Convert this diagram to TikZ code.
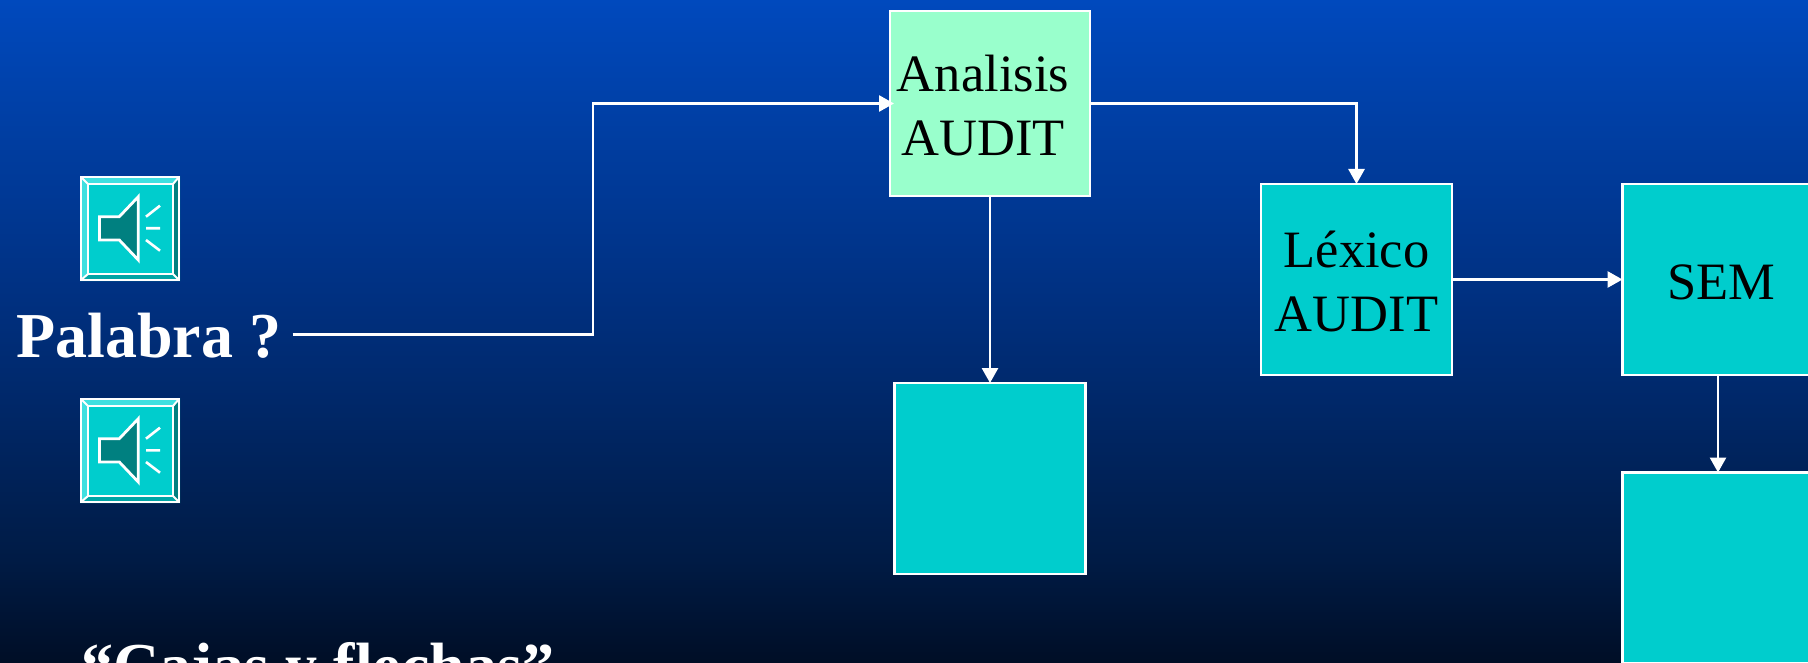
\documentclass[tikz,border=0pt]{standalone}
\usepackage{fontspec}
\setmainfont{Liberation Serif}
\usetikzlibrary{arrows.meta}
\definecolor{fondoalto}{HTML}{0049BD}
\definecolor{fondomedio}{HTML}{003080}
\definecolor{fondoosc}{HTML}{001B45}
\definecolor{fondobajo}{HTML}{000E26}
\definecolor{turquesa}{HTML}{00CDCD}
\definecolor{menta}{HTML}{99FFCC}
\definecolor{oscuro}{HTML}{008080}
\definecolor{medio}{HTML}{00A5A5}
\definecolor{claro}{HTML}{40E0E0}
\pgfdeclareverticalshading{fondo}{100bp}{color(0bp)=(fondobajo); color(25bp)=(fondobajo); color(32.8bp)=(fondoosc); color(52.4bp)=(fondomedio); color(75bp)=(fondoalto); color(100bp)=(fondoalto)}
\tikzset{
  caja/.style={draw=white, fill=turquesa, line width=1.4pt, inner sep=0pt, outer sep=0pt, text height=20.3pt, minimum width=95.5pt, minimum height=95.5pt, align=center, font=\fontsize{26.25}{32}\selectfont},
  cajados/.style={caja, text height=52.3pt},
  flecha/.style={draw=white, line width=1.35pt, -{Triangle[length=7.5pt,width=8pt]}},
  titulo/.style={text=white, inner sep=0pt, anchor=base west, font=\fontsize{32}{38}\selectfont\bfseries},
  altavoz/.pic={
    \fill[claro] (0,0) rectangle (100,105);
    \fill[oscuro] (100,0) -- (100,105) -- (93,98) -- (93,8) -- cycle;
    \fill[medio] (0,105) -- (100,105) -- (93,98) -- (8,98) -- cycle;
    \draw[white, line width=1.2pt] (1.2,1.2) rectangle (98.8,103.8);
    \draw[white, line width=1pt] (1,1) -- (8,8) (99,1) -- (93,8) (1,104) -- (8,98) (99,104) -- (93,98);
    \draw[white, fill=turquesa, line width=1.3pt] (8,8) rectangle (93,98);
    \draw[white, fill=oscuro, line width=1.4pt] (19.5,40.7) -- (39.3,40.7) -- (58.3,20.7) -- (58.3,84) -- (39.3,64) -- (19.5,64) -- cycle;
    \draw[white, line width=1.3pt] (66,40.7) -- (80,29.7) (66,52.3) -- (80,52.3) (66,64) -- (80,74.7);
  }
}
\begin{document}
\begin{tikzpicture}[x=0.5pt,y=-0.5pt]
  \useasboundingbox (0,0) rectangle (1808,663);
  \clip (0,0) rectangle (1808,663);
  \shade[shading=fondo] (0,0) rectangle (1808,663);
  \pic at (80,176) {altavoz};
  \pic at (80,398) {altavoz};
  \node[titulo] (palabra) at (16,357) {Palabra ?};
  \node[titulo] (cajas) at (81,687) {“Cajas y flechas”};
  \node[cajados, fill=menta, minimum width=100pt, minimum height=92.5pt] (analisis) at (990,103.5) {Analisis\rule{7pt}{0pt}\\AUDIT\rule{7pt}{0pt}};
  \node[cajados] (lexico) at (1356.5,279.5) {Léxico\\AUDIT};
  \node[caja] (sem) at (1718,279.5) {\rule{3pt}{0pt}SEM};
  \node[caja] (vacioa) at (990,478.5) {};
  \node[caja] (vaciob) at (1718,568) {};
  \coordinate (codo) at (593,103.5);
  \begin{scope}[flecha]
    \draw[shorten <=5.5pt, shorten >=-2pt] ([yshift=0.5pt]palabra.east) -| (codo) -- (analisis.west);
    \draw (analisis.east) -| (lexico.north);
    \draw (analisis.south) -- (vacioa.north);
    \draw (lexico.east) -- (sem.west);
    \draw (sem.south) -- (vaciob.north);
  \end{scope}
\end{tikzpicture}
\end{document}
